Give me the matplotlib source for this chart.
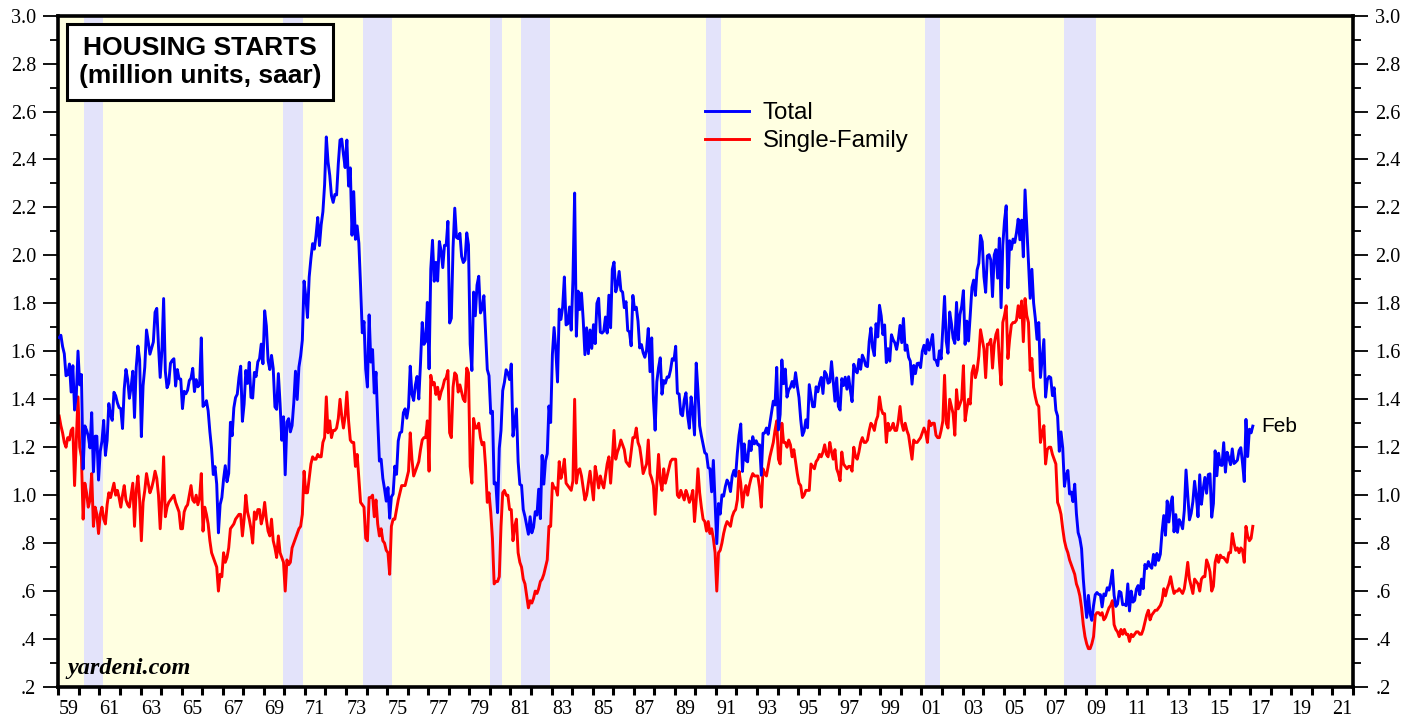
import matplotlib
matplotlib.use("Agg")
import matplotlib.pyplot as plt
import numpy as np
from matplotlib.ticker import FixedLocator, FuncFormatter

# ---------------- data (monthly, Jan 1959 - Feb 2017) ----------------
start_year = 1959
# Total housing starts, thousand units saar
total_k = [
    [1657, 1667, 1620, 1590, 1498, 1503, 1547, 1430, 1540, 1355, 1416, 1601],
    [1460, 1503, 1109, 1289, 1271, 1247, 1197, 1344, 1097, 1246, 1246, 1063],
    [1183, 1226, 1312, 1166, 1228, 1382, 1335, 1312, 1429, 1415, 1385, 1365],
    [1361, 1278, 1443, 1524, 1483, 1404, 1450, 1517, 1324, 1533, 1622, 1564],
    [1244, 1456, 1534, 1689, 1641, 1588, 1614, 1639, 1763, 1779, 1622, 1491],
    [1603, 1820, 1517, 1448, 1467, 1550, 1562, 1569, 1455, 1524, 1486, 1484],
    [1361, 1433, 1423, 1438, 1478, 1488, 1529, 1432, 1482, 1452, 1460, 1656],
    [1370, 1378, 1394, 1352, 1265, 1194, 1086, 1119, 1046, 843, 961, 990],
    [1067, 1123, 1056, 1091, 1304, 1248, 1364, 1407, 1421, 1491, 1538, 1308],
    [1380, 1520, 1466, 1554, 1408, 1405, 1512, 1495, 1556, 1569, 1630, 1548],
    [1769, 1705, 1561, 1524, 1583, 1528, 1368, 1358, 1507, 1381, 1229, 1327],
    [1085, 1305, 1319, 1264, 1290, 1385, 1517, 1399, 1534, 1580, 1647, 1893],
    [1828, 1741, 1910, 1986, 2049, 2026, 2083, 2158, 2041, 2128, 2182, 2295],
    [2494, 2390, 2334, 2249, 2221, 2254, 2252, 2382, 2481, 2485, 2421, 2366],
    [2481, 2289, 2365, 2084, 2266, 2067, 2123, 2051, 1874, 1677, 1724, 1526],
    [1451, 1752, 1555, 1607, 1426, 1513, 1316, 1142, 1150, 1070, 1026, 975],
    [1032, 904, 993, 1005, 1121, 1087, 1226, 1260, 1264, 1344, 1360, 1321],
    [1367, 1538, 1421, 1395, 1459, 1495, 1401, 1550, 1720, 1629, 1641, 1804],
    [1527, 1943, 2063, 1892, 1971, 1893, 2058, 2020, 1949, 2042, 2042, 2142],
    [1718, 1738, 2032, 2197, 2075, 2070, 2092, 1996, 1970, 1981, 2094, 2044],
    [1630, 1520, 1847, 1748, 1876, 1913, 1760, 1778, 1832, 1681, 1524, 1498],
    [1341, 1350, 1047, 1051, 927, 1196, 1269, 1436, 1471, 1523, 1510, 1482],
    [1547, 1246, 1306, 1360, 1140, 1045, 1041, 940, 911, 873, 837, 910],
    [843, 866, 931, 917, 1025, 902, 1166, 1046, 1144, 1173, 1372, 1303],
    [1586, 1699, 1606, 1472, 1776, 1733, 1785, 1910, 1710, 1715, 1785, 1688],
    [1897, 2260, 1663, 1851, 1774, 1843, 1732, 1586, 1698, 1590, 1689, 1612],
    [1711, 1632, 1800, 1821, 1680, 1676, 1684, 1743, 1676, 1834, 1698, 1942],
    [1972, 1848, 1876, 1933, 1854, 1847, 1782, 1807, 1687, 1681, 1623, 1833],
    [1774, 1784, 1726, 1614, 1628, 1594, 1575, 1605, 1695, 1515, 1656, 1400],
    [1271, 1473, 1532, 1573, 1421, 1478, 1467, 1493, 1492, 1522, 1569, 1563],
    [1621, 1425, 1422, 1339, 1331, 1397, 1427, 1332, 1279, 1410, 1351, 1251],
    [1551, 1437, 1289, 1248, 1212, 1177, 1171, 1115, 1110, 1014, 1145, 969],
    [798, 965, 921, 1001, 996, 1036, 1063, 1049, 1015, 1079, 1103, 1079],
    [1176, 1250, 1297, 1099, 1214, 1145, 1139, 1226, 1186, 1244, 1214, 1227],
    [1210, 1210, 1083, 1258, 1260, 1280, 1254, 1300, 1343, 1392, 1376, 1533],
    [1272, 1337, 1564, 1465, 1526, 1409, 1439, 1450, 1474, 1450, 1511, 1455],
    [1407, 1316, 1249, 1267, 1314, 1281, 1461, 1416, 1369, 1369, 1452, 1431],
    [1467, 1491, 1424, 1516, 1504, 1467, 1472, 1557, 1475, 1392, 1489, 1370],
    [1355, 1486, 1457, 1492, 1442, 1494, 1437, 1390, 1546, 1520, 1510, 1566],
    [1525, 1584, 1567, 1540, 1536, 1641, 1698, 1614, 1582, 1715, 1660, 1792],
    [1748, 1670, 1710, 1553, 1611, 1559, 1669, 1648, 1635, 1608, 1648, 1708],
    [1636, 1737, 1604, 1626, 1575, 1559, 1463, 1541, 1507, 1549, 1551, 1532],
    [1600, 1625, 1590, 1649, 1605, 1636, 1670, 1567, 1562, 1540, 1602, 1568],
    [1698, 1829, 1642, 1592, 1764, 1717, 1655, 1633, 1804, 1648, 1753, 1788],
    [1853, 1629, 1726, 1643, 1751, 1867, 1897, 1833, 1939, 1967, 2083, 2057],
    [1911, 1846, 1998, 2003, 1981, 1828, 2002, 2024, 1905, 2072, 1782, 2042],
    [2144, 2207, 1864, 2061, 2025, 2068, 2054, 2095, 2151, 2065, 2147, 1994],
    [2273, 2119, 1969, 1821, 1942, 1802, 1737, 1650, 1720, 1491, 1570, 1649],
    [1409, 1480, 1495, 1490, 1415, 1448, 1354, 1330, 1183, 1264, 1197, 1037],
    [1084, 1103, 1005, 1013, 973, 1046, 923, 844, 820, 777, 652, 560],
    [490, 582, 505, 478, 540, 585, 594, 586, 585, 534, 588, 581],
    [614, 604, 636, 687, 583, 536, 546, 599, 594, 543, 545, 539],
    [630, 517, 600, 554, 561, 608, 623, 585, 650, 610, 711, 694],
    [723, 704, 695, 753, 708, 757, 728, 754, 847, 915, 833, 976],
    [888, 962, 993, 847, 919, 845, 898, 883, 860, 936, 1105, 1003],
    [897, 924, 973, 1058, 996, 910, 1085, 962, 1025, 1074, 1008, 1086],
    [1089, 908, 965, 1185, 1081, 1175, 1126, 1124, 1219, 1096, 1179, 1155],
    [1127, 1193, 1132, 1138, 1146, 1186, 1198, 1133, 1057, 1316, 1161, 1275],
    [1260, 1288],
]

# Single-family housing starts, million units saar
single_family = [
    [1.33, 1.29, 1.26, 1.22, 1.20, 1.24, 1.23, 1.27, 1.28, 1.04, 1.22, 1.41],
    [1.20, 1.16, 0.90, 1.05, 1.01, 0.95, 0.98, 1.09, 0.87, 0.95, 0.92, 0.84],
    [0.92, 0.95, 0.90, 0.88, 0.96, 1.01, 0.99, 1.02, 1.05, 1.00, 1.02, 0.99],
    [0.95, 1.00, 1.04, 0.98, 0.96, 0.95, 1.00, 1.05, 0.87, 1.02, 1.08, 0.98],
    [0.81, 0.97, 1.02, 1.09, 1.05, 1.01, 1.03, 1.06, 1.10, 1.07, 1.00, 0.86],
    [0.98, 1.16, 0.91, 0.95, 0.97, 0.98, 0.99, 1.00, 0.97, 0.95, 0.93, 0.86],
    [0.86, 0.93, 0.95, 0.96, 1.00, 1.04, 0.98, 0.97, 1.00, 0.96, 0.99, 1.09],
    [0.85, 0.95, 0.92, 0.88, 0.81, 0.76, 0.74, 0.72, 0.70, 0.60, 0.67, 0.66],
    [0.76, 0.72, 0.74, 0.78, 0.86, 0.87, 0.88, 0.90, 0.91, 0.92, 0.92, 0.83],
    [0.90, 1.00, 0.93, 0.90, 0.86, 0.80, 0.93, 0.90, 0.94, 0.94, 0.88, 0.91],
    [0.97, 0.90, 0.85, 0.83, 0.90, 0.81, 0.78, 0.74, 0.83, 0.76, 0.74, 0.72],
    [0.60, 0.73, 0.71, 0.72, 0.78, 0.80, 0.82, 0.84, 0.86, 0.87, 0.92, 1.10],
    [1.01, 1.01, 1.07, 1.13, 1.16, 1.15, 1.15, 1.17, 1.16, 1.16, 1.22, 1.24],
    [1.41, 1.26, 1.31, 1.24, 1.27, 1.27, 1.28, 1.32, 1.40, 1.33, 1.28, 1.33],
    [1.43, 1.31, 1.23, 1.22, 1.22, 1.12, 1.17, 1.07, 0.97, 0.96, 0.95, 0.82],
    [0.81, 0.99, 0.99, 1.00, 0.91, 0.98, 0.88, 0.83, 0.86, 0.81, 0.80, 0.77],
    [0.76, 0.67, 0.87, 0.90, 0.90, 0.94, 0.98, 1.01, 1.04, 1.04, 1.04, 1.07],
    [1.10, 1.26, 1.15, 1.08, 1.10, 1.12, 1.14, 1.19, 1.23, 1.24, 1.24, 1.31],
    [1.10, 1.50, 1.46, 1.47, 1.42, 1.45, 1.40, 1.43, 1.45, 1.48, 1.49, 1.52],
    [1.26, 1.24, 1.45, 1.51, 1.50, 1.43, 1.46, 1.43, 1.40, 1.39, 1.53, 1.51],
    [1.12, 1.05, 1.32, 1.28, 1.28, 1.30, 1.24, 1.21, 1.22, 1.12, 0.97, 1.01],
    [0.93, 0.82, 0.63, 0.64, 0.64, 0.66, 0.87, 1.01, 1.02, 1.00, 1.00, 0.94],
    [0.94, 0.81, 0.87, 0.90, 0.76, 0.72, 0.70, 0.65, 0.63, 0.58, 0.53, 0.56],
    [0.55, 0.57, 0.60, 0.59, 0.61, 0.64, 0.65, 0.67, 0.70, 0.73, 0.87, 0.87],
    [1.05, 1.03, 1.03, 1.00, 1.14, 1.07, 1.10, 1.15, 1.05, 1.04, 1.03, 1.02],
    [1.06, 1.40, 1.05, 1.10, 1.11, 1.08, 1.03, 0.98, 1.00, 1.05, 1.10, 1.04],
    [0.98, 1.12, 1.08, 1.03, 1.08, 1.05, 1.03, 1.08, 1.13, 1.16, 1.05, 1.15],
    [1.27, 1.15, 1.18, 1.20, 1.23, 1.21, 1.19, 1.14, 1.13, 1.12, 1.18, 1.24],
    [1.24, 1.28, 1.22, 1.20, 1.15, 1.09, 1.11, 1.13, 1.23, 1.09, 1.07, 1.04],
    [0.92, 1.05, 1.17, 1.06, 1.02, 1.11, 1.05, 1.08, 1.11, 1.14, 1.15, 1.15],
    [1.15, 1.00, 0.99, 1.02, 1.00, 0.98, 1.02, 1.00, 0.97, 0.99, 1.02, 0.89],
    [0.98, 1.11, 1.01, 0.95, 0.90, 0.89, 0.85, 0.89, 0.84, 0.86, 0.82, 0.76],
    [0.60, 0.76, 0.77, 0.80, 0.84, 0.87, 0.89, 0.88, 0.87, 0.91, 0.93, 0.94],
    [0.98, 1.10, 1.05, 0.95, 1.01, 1.04, 1.00, 1.04, 1.07, 1.09, 1.08, 1.08],
    [1.08, 1.03, 0.95, 1.11, 1.09, 1.08, 1.12, 1.16, 1.19, 1.22, 1.27, 1.31],
    [1.15, 1.13, 1.30, 1.22, 1.22, 1.20, 1.23, 1.21, 1.16, 1.19, 1.14, 1.09],
    [1.05, 1.04, 0.99, 1.00, 1.02, 1.02, 1.02, 1.13, 1.12, 1.11, 1.14, 1.15],
    [1.17, 1.16, 1.18, 1.21, 1.17, 1.16, 1.22, 1.18, 1.15, 1.19, 1.11, 1.09],
    [1.06, 1.18, 1.13, 1.12, 1.11, 1.12, 1.12, 1.10, 1.20, 1.16, 1.15, 1.18],
    [1.22, 1.24, 1.22, 1.22, 1.23, 1.27, 1.30, 1.29, 1.27, 1.31, 1.33, 1.41],
    [1.36, 1.34, 1.34, 1.22, 1.30, 1.27, 1.28, 1.30, 1.27, 1.27, 1.31, 1.37],
    [1.30, 1.27, 1.30, 1.27, 1.25, 1.20, 1.15, 1.23, 1.22, 1.22, 1.23, 1.24],
    [1.26, 1.28, 1.26, 1.22, 1.31, 1.29, 1.30, 1.30, 1.25, 1.24, 1.24, 1.27],
    [1.31, 1.50, 1.30, 1.28, 1.40, 1.37, 1.34, 1.25, 1.44, 1.36, 1.38, 1.40],
    [1.54, 1.31, 1.36, 1.40, 1.38, 1.51, 1.54, 1.49, 1.52, 1.58, 1.69, 1.65],
    [1.61, 1.49, 1.63, 1.63, 1.65, 1.53, 1.63, 1.67, 1.69, 1.56, 1.46, 1.72],
    [1.75, 1.79, 1.57, 1.65, 1.71, 1.72, 1.72, 1.73, 1.79, 1.74, 1.81, 1.64],
    [1.82, 1.75, 1.72, 1.52, 1.57, 1.45, 1.41, 1.38, 1.37, 1.22, 1.26, 1.29],
    [1.13, 1.19, 1.20, 1.20, 1.17, 1.15, 1.13, 0.97, 0.95, 0.92, 0.86, 0.81],
    [0.78, 0.76, 0.73, 0.71, 0.69, 0.67, 0.63, 0.61, 0.58, 0.53, 0.46, 0.41],
    [0.38, 0.36, 0.36, 0.38, 0.41, 0.50, 0.51, 0.51, 0.50, 0.51, 0.48, 0.49],
    [0.51, 0.53, 0.54, 0.56, 0.46, 0.44, 0.43, 0.41, 0.44, 0.42, 0.44, 0.42],
    [0.42, 0.39, 0.42, 0.41, 0.42, 0.43, 0.43, 0.42, 0.42, 0.44, 0.47, 0.50],
    [0.52, 0.48, 0.50, 0.51, 0.52, 0.52, 0.53, 0.54, 0.56, 0.61, 0.58, 0.61],
    [0.63, 0.66, 0.62, 0.59, 0.60, 0.60, 0.61, 0.60, 0.59, 0.61, 0.66, 0.72],
    [0.65, 0.62, 0.59, 0.65, 0.64, 0.63, 0.60, 0.65, 0.66, 0.66, 0.73, 0.71],
    [0.68, 0.60, 0.62, 0.72, 0.75, 0.72, 0.75, 0.74, 0.74, 0.73, 0.72, 0.76],
    [0.76, 0.84, 0.80, 0.77, 0.78, 0.76, 0.78, 0.77, 0.72, 0.87, 0.83, 0.81],
    [0.82, 0.87],
]

# NBER recessions (decimal years, start, end)
recession_start = [1960.25, 1969.917, 1973.833, 1980.0, 1981.5, 1990.5, 2001.167, 2007.917]
recession_end = [1961.167, 1970.917, 1975.25, 1980.583, 1982.917, 1991.25, 2001.917, 2009.5]

series_labels = ["Total", "Single-Family"]
last_label = "Feb"
title_text = "HOUSING STARTS\n(million units, saar)"
source_text = "yardeni.com"

x_min, x_max = 1959, 2022
y_min, y_max = 0.2, 3.0

# ---------------- build series ----------------
tot = np.concatenate([np.array(r, dtype=float) for r in total_k]) / 1000.0
sf = np.concatenate([np.array(r, dtype=float) for r in single_family])
dates = start_year + (np.arange(len(tot)) + 0.5) / 12.0

# ---------------- figure ----------------
W, H = 1419, 721
fig = plt.figure(figsize=(W / 100, H / 100), dpi=100)
ax_l, ax_r, ax_t, ax_b = 58.3, 1353, 15.6, 687
ax = fig.add_axes([ax_l / W, 1 - ax_b / H, (ax_r - ax_l) / W, (ax_b - ax_t) / H])

ax.set_facecolor("#FFFFE1")
for s, e in zip(recession_start, recession_end):
    ax.axvspan(s, e, color="#E3E3FA", lw=0, zorder=0)

ln_tot, = ax.plot(dates, tot, color="#0000FF", lw=2.1, zorder=3, solid_joinstyle="round")
ln_sf, = ax.plot(dates, sf, color="#FF0000", lw=2.1, zorder=2, solid_joinstyle="round")

ax.set_xlim(x_min, x_max)
ax.set_ylim(y_min, y_max)

serif = "Liberation Serif"
sans = "Liberation Sans"

# y ticks
yt = np.round(np.arange(0.2, 3.01, 0.2), 1)
ax.yaxis.set_major_locator(FixedLocator(yt))
ax.yaxis.set_minor_locator(FixedLocator(np.round(np.arange(0.3, 2.95, 0.2), 1)))
ax.yaxis.set_major_formatter(FuncFormatter(lambda v, p: (f"{v:.1f}" if v >= 1 else f"{v:.1f}"[1:])))
ax.tick_params(axis="y", which="major", direction="out", length=11, width=1.3,
               left=True, right=True, labelleft=True, labelright=True, labelsize=14.5, pad=5)
ax.tick_params(axis="y", which="minor", direction="out", length=6, width=1.3,
               left=True, right=True)

# x ticks: a tick at every year, labels centred on odd years
ax.xaxis.set_major_locator(FixedLocator(np.arange(x_min, x_max + 1)))
ax.xaxis.set_major_formatter(FuncFormatter(lambda v, p: ""))
ax.xaxis.set_minor_locator(FixedLocator(np.arange(x_min, x_max, 2) + 0.5))
ax.xaxis.set_minor_formatter(FuncFormatter(lambda v, p: f"{int(v) % 100:02d}"))
ax.tick_params(axis="x", which="major", direction="out", length=6, width=2.2)
ax.tick_params(axis="x", which="minor", length=0, labelsize=14.5, pad=9)

for lab in ax.xaxis.get_ticklabels(which="both") + ax.yaxis.get_ticklabels(which="both"):
    lab.set_fontfamily(serif)

for sp in ax.spines.values():
    sp.set_linewidth(2.6)
    sp.set_color("black")

# title box
ax.text((200 - ax_l) / (ax_r - ax_l), (ax_b - 62) / (ax_b - ax_t), title_text,
        transform=ax.transAxes, ha="center", va="center",
        fontsize=19, fontweight="bold", fontfamily=sans, linespacing=1.2, zorder=5,
        bbox=dict(boxstyle="square,pad=0.45", fc="white", ec="black", lw=2.2))

# legend
leg = ax.legend([ln_tot, ln_sf], series_labels, loc="upper left",
                bbox_to_anchor=((705 - ax_l) / (ax_r - ax_l), (ax_b - 102) / (ax_b - ax_t)),
                frameon=False, handlelength=1.85, handletextpad=0.55,
                labelspacing=0.25, borderpad=0, borderaxespad=0,
                prop={"family": sans, "size": 17.3})

# end label
ax.annotate(last_label, xy=(dates[-1], tot[-1]), xytext=(6, 0), textcoords="offset points",
            fontsize=15, fontfamily=sans, va="center", ha="left")

# source
ax.text(0.007, 0.012, source_text, transform=ax.transAxes, ha="left", va="bottom",
        fontsize=17.5, fontfamily=serif, fontweight="bold", style="italic", zorder=5)

fig.savefig("out.png", dpi=100)
